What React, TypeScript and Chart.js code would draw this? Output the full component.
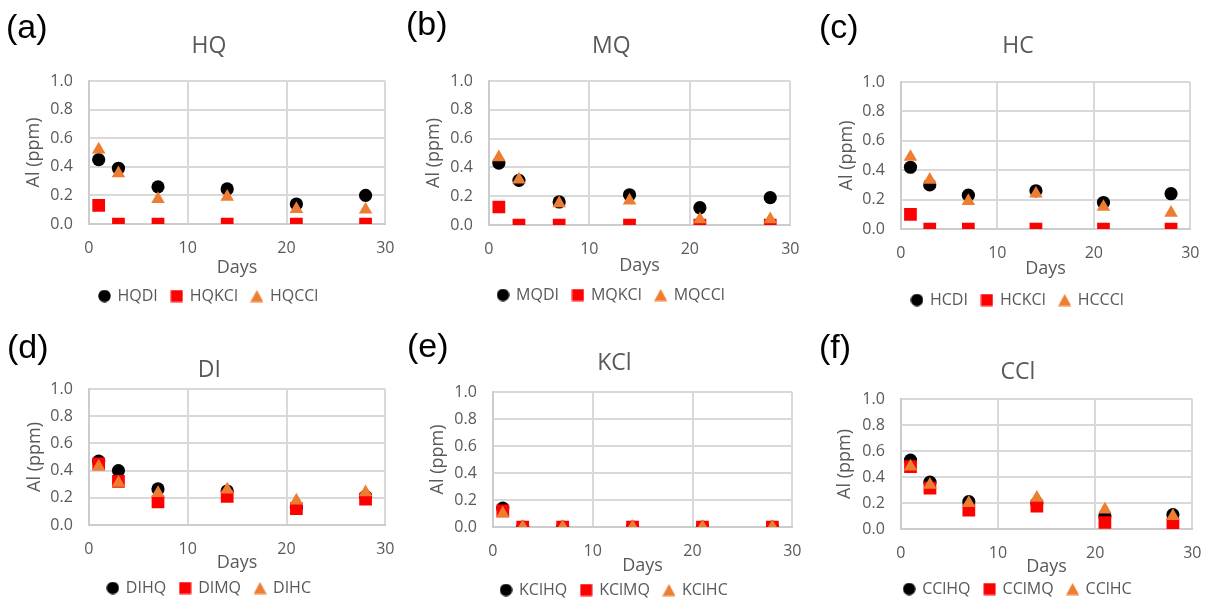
import React, { useEffect, useRef } from "react";
import { Chart, registerables } from "chart.js";

Chart.register(...registerables);

// ---- data ----
const days = [1, 3, 7, 14, 21, 28];
const xTickStep = 10;
const yTickStep = 0.2;

const hqDI = [0.45, 0.39, 0.26, 0.245, 0.14, 0.2];
const hqKCl = [0.13, 0, 0, 0, 0, 0];
const hqCCl = [0.52, 0.355, 0.175, 0.19, 0.105, 0.1];

const mqDI = [0.43, 0.31, 0.16, 0.21, 0.12, 0.19];
const mqKCl = [0.125, 0, 0, 0, 0, 0];
const mqCCl = [0.47, 0.315, 0.15, 0.17, 0.04, 0.04];

const hcDI = [0.42, 0.3, 0.23, 0.26, 0.18, 0.24];
const hcKCl = [0.1, 0, 0, 0, 0, 0];
const hcCCl = [0.49, 0.335, 0.19, 0.24, 0.15, 0.11];

const diHQ = [0.47, 0.4, 0.265, 0.25, 0.13, 0.21];
const diMQ = [0.45, 0.32, 0.17, 0.21, 0.12, 0.19];
const diHC = [0.43, 0.31, 0.235, 0.26, 0.18, 0.24];

const kclHQ = [0.14, 0, 0, 0, 0, 0];
const kclMQ = [0.12, 0, 0, 0, 0, 0];
const kclHC = [0.1, 0, 0, 0, 0, 0];

const cclHQ = [0.53, 0.36, 0.21, 0.2, 0.1, 0.11];
const cclMQ = [0.48, 0.315, 0.145, 0.175, 0.05, 0.035];
const cclHC = [0.48, 0.34, 0.2, 0.24, 0.15, 0.1];

const panelTitles = ["HQ", "MQ", "HC", "DI", "KCl", "CCl"];
const panelLabels = ["(a)", "(b)", "(c)", "(d)", "(e)", "(f)"];
const seriesNames = [
  ["HQDI", "HQKCl", "HQCCl"],
  ["MQDI", "MQKCl", "MQCCl"],
  ["HCDI", "HCKCl", "HCCCl"],
  ["DIHQ", "DIMQ", "DIHC"],
  ["KClHQ", "KClMQ", "KClHC"],
  ["CClHQ", "CClMQ", "CClHC"],
];
const seriesValues = [
  [hqDI, hqKCl, hqCCl],
  [mqDI, mqKCl, mqCCl],
  [hcDI, hcKCl, hcCCl],
  [diHQ, diMQ, diHC],
  [kclHQ, kclMQ, kclHC],
  [cclHQ, cclMQ, cclHC],
];

// ---- layout / style ----
const FONT = "'Open Sans', 'Noto Sans', sans-serif";
const TEXT = "#595959";
const GRID = "#d9d9d9";
const markerStyles = [
  { pointStyle: "circle", radius: 6.6, color: "#000000", order: 2 },
  { pointStyle: "rect", radius: 9, color: "#ff0000", order: 1 },
  { pointStyle: "triangle", radius: 7.8, color: "#ed7d31", order: 0 },
];

function legendMarker(kind: string, color: string): HTMLCanvasElement {
  const c = document.createElement("canvas");
  c.width = 13;
  c.height = 13;
  const g = c.getContext("2d")!;
  g.fillStyle = color;
  g.beginPath();
  if (kind === "circle") {
    g.arc(6.5, 6.5, 6.2, 0, Math.PI * 2);
  } else if (kind === "rect") {
    g.rect(0.5, 0.5, 12, 12);
  } else {
    g.moveTo(6.5, 0.5);
    g.lineTo(13, 12.5);
    g.lineTo(0, 12.5);
    g.closePath();
  }
  g.fill();
  return c;
}

type PanelLayout = {
  top: number;
  plot: [number, number, number, number]; // left, right, top, bottom
  yTitleCx: number;
  titleCy: number;
  daysCy: number;
  legendCy: number;
  labelX: number;
  labelY: number;
};

const layouts: PanelLayout[] = [
  { top: 0, plot: [89, 395, 81, 224], yTitleCx: 34, titleCy: 46, daysCy: 268, legendCy: 295.5, labelX: 7, labelY: 13 },
  { top: 0, plot: [489, 800, 81, 225], yTitleCx: 434, titleCy: 46, daysCy: 265.5, legendCy: 295, labelX: 407, labelY: 10 },
  { top: 0, plot: [901, 1200, 82, 229], yTitleCx: 847, titleCy: 46.5, daysCy: 269, legendCy: 300, labelX: 820, labelY: 13 },
  { top: 300, plot: [89, 395, 389, 525], yTitleCx: 35, titleCy: 370, daysCy: 563, legendCy: 587.5, labelX: 8, labelY: 333 },
  { top: 300, plot: [493, 802, 392, 527], yTitleCx: 438, titleCy: 363.5, daysCy: 566, legendCy: 590, labelX: 408, labelY: 332 },
  { top: 300, plot: [901, 1202, 399, 529], yTitleCx: 845, titleCy: 372.5, daysCy: 566.5, legendCy: 588.5, labelX: 820, labelY: 333 },
];

const TITLE_SIZE = 23;
const TICK_SIZE = 16;
const AXIS_TITLE_SIZE = 18;
const LEGEND_SIZE = 16;
const LEGEND_PAD = 14;
const PAD_R = 14;

function Panel({ idx }: { idx: number }) {
  const ref = useRef<HTMLCanvasElement | null>(null);
  const L = layouts[idx];
  const [pl, pr, pt, pb] = L.plot;
  const axisLH = AXIS_TITLE_SIZE * 1.2;
  const titleLH = TITLE_SIZE * 1.2;
  const cl = L.yTitleCx - axisLH / 2;
  const ct = L.top;
  const W = Math.round(pr - cl + PAD_R);
  const H = Math.round(L.legendCy + 10 + LEGEND_SIZE / 2 - ct);
  const legendH = LEGEND_SIZE + LEGEND_PAD + 10;
  const legendTop = H - legendH; // relative
  const xScaleH = legendTop - (pb - ct);
  const daysPadB = legendTop - (L.daysCy - ct) - axisLH / 2;
  const yScaleW = pl - cl;
  const titlePadTop = L.titleCy - ct - titleLH / 2;
  const titlePadBottom = pt - ct - titlePadTop - titleLH;
  const padRight = cl + W - pr;

  useEffect(() => {
    if (!ref.current) return;
    const legendIcons = markerStyles.map((m) => legendMarker(m.pointStyle, m.color));
    const datasets = seriesValues[idx].map((vals, s) => ({
      label: seriesNames[idx][s],
      data: days.map((d, i) => ({ x: d, y: vals[i] })),
      pointStyle: markerStyles[s].pointStyle,
      pointRadius: markerStyles[s].radius,
      pointHoverRadius: markerStyles[s].radius,
      backgroundColor: markerStyles[s].color,
      borderColor: markerStyles[s].color,
      pointBorderWidth: 0,
      borderWidth: 0,
      order: markerStyles[s].order,
    }));
    const baseGen = (Chart as any).defaults.plugins.legend.labels.generateLabels;
    const chart = new Chart(ref.current, {
      type: "scatter",
      data: { datasets: datasets as any },
      options: {
        responsive: false,
        animation: false,
        events: [],
        layout: { padding: { left: 0, right: padRight, top: 0, bottom: 0 } },
        scales: {
          x: {
            type: "linear",
            min: 0,
            max: 30,
            afterFit: (s: any) => {
              s.height = xScaleH;
            },
            ticks: {
              stepSize: xTickStep,
              padding: 14.5,
              color: TEXT,
              font: { family: FONT, size: TICK_SIZE },
              maxRotation: 0,
            },
            grid: { color: GRID, lineWidth: 2, drawTicks: false },
            border: { color: "#cccccc", width: 2 },
            title: {
              display: true,
              text: "Days",
              color: TEXT,
              font: { family: FONT, size: AXIS_TITLE_SIZE },
              padding: { top: 0, bottom: daysPadB },
            },
          },
          y: {
            type: "linear",
            min: 0,
            max: 1,
            afterFit: (s: any) => {
              s.width = yScaleW;
            },
            ticks: {
              stepSize: yTickStep,
              padding: 16,
              color: TEXT,
              font: { family: FONT, size: TICK_SIZE },
              callback: (v: any) => Number(v).toFixed(1),
            },
            grid: { color: GRID, lineWidth: 2, drawTicks: false },
            border: { color: "#cccccc", width: 2 },
            title: {
              display: true,
              text: "Al (ppm)",
              color: TEXT,
              font: { family: FONT, size: AXIS_TITLE_SIZE },
              padding: { top: 0, bottom: 0 },
            },
          },
        },
        plugins: {
          title: {
            display: true,
            text: panelTitles[idx],
            color: TEXT,
            font: { family: FONT, size: TITLE_SIZE, weight: "normal" },
            padding: { top: titlePadTop, bottom: titlePadBottom },
          },
          legend: {
            display: true,
            position: "bottom",
            labels: {
              usePointStyle: true,
              boxWidth: 10,
              boxHeight: 10,
              padding: LEGEND_PAD,
              color: TEXT,
              font: { family: FONT, size: LEGEND_SIZE },
              sort: (a: any, b: any) => a.datasetIndex - b.datasetIndex,
              generateLabels: (ch: any) =>
                baseGen(ch).map((item: any) => ({
                  ...item,
                  pointStyle: legendIcons[item.datasetIndex],
                })),
            },
          },
          tooltip: { enabled: false },
        },
      } as any,
    });
    return () => chart.destroy();
  }, [idx]);

  return (
    <>
      <canvas
        ref={ref}
        width={W}
        height={H}
        style={{ position: "absolute", left: cl, top: ct, width: W, height: H }}
      />
      <div
        style={{
          position: "absolute",
          left: L.labelX - 1,
          top: L.labelY - 4,
          fontFamily: "'Liberation Sans', Arial, sans-serif",
          fontSize: 34,
          lineHeight: 1,
          color: "#000",
          whiteSpace: "nowrap",
        }}
      >
        {panelLabels[idx]}
      </div>
    </>
  );
}

export default function App() {
  return (
    <div
      style={{
        position: "fixed",
        left: 0,
        top: 0,
        width: 1221,
        height: 601,
        background: "#ffffff",
        overflow: "hidden",
      }}
    >
      {layouts.map((_, i) => (
        <Panel key={i} idx={i} />
      ))}
    </div>
  );
}
